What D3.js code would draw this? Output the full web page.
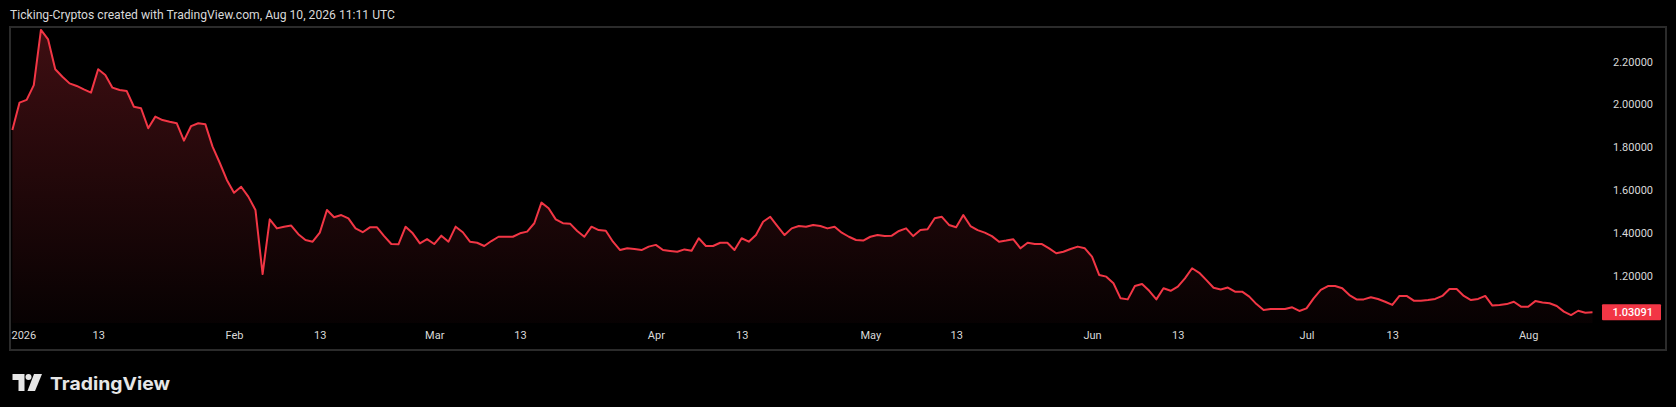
<!DOCTYPE html>
<html>
<head>
<meta charset="utf-8">
<script src="https://cdn.jsdelivr.net/npm/d3@7/dist/d3.min.js"></script>
<style>
  html, body { margin: 0; padding: 0; background: #000; }
  svg { display: block; }
</style>
</head>
<body>
<svg id="chart" width="1676" height="407"></svg>
<script>
// ---- data (daily closes, Jan 1 2026 .. Aug 10 2026) ----
const startDate = "2026-01-01";
const endDate = "2026-08-10";
const closes = [
  1.881, 2.008, 2.021, 2.090, 2.347, 2.303, 2.164, 2.129, 2.098, 2.086,
  2.070, 2.055, 2.164, 2.137, 2.078, 2.067, 2.062, 1.989, 1.982, 1.889,
  1.943, 1.927, 1.919, 1.912, 1.831, 1.899, 1.912, 1.907, 1.803, 1.728,
  1.648, 1.588, 1.616, 1.570, 1.508, 1.209, 1.464, 1.422, 1.430, 1.435,
  1.395, 1.368, 1.360, 1.402, 1.508, 1.474, 1.484, 1.469, 1.422, 1.404,
  1.427, 1.427, 1.386, 1.349, 1.348, 1.430, 1.399, 1.352, 1.372, 1.349,
  1.388, 1.360, 1.430, 1.404, 1.360, 1.355, 1.340, 1.363, 1.383, 1.383,
  1.383, 1.399, 1.407, 1.446, 1.542, 1.516, 1.464, 1.446, 1.444, 1.410,
  1.383, 1.430, 1.414, 1.411, 1.360, 1.321, 1.329, 1.326, 1.321, 1.337,
  1.345, 1.321, 1.317, 1.313, 1.324, 1.318, 1.376, 1.340, 1.340, 1.355,
  1.355, 1.321, 1.376, 1.360, 1.391, 1.453, 1.476, 1.433, 1.391, 1.422,
  1.433, 1.430, 1.438, 1.433, 1.422, 1.430, 1.402, 1.383, 1.368, 1.365,
  1.383, 1.391, 1.386, 1.388, 1.410, 1.422, 1.386, 1.414, 1.418, 1.469,
  1.476, 1.438, 1.427, 1.484, 1.433, 1.414, 1.402, 1.386, 1.360, 1.365,
  1.371, 1.329, 1.355, 1.349, 1.349, 1.329, 1.306, 1.313, 1.326, 1.337,
  1.329, 1.290, 1.205, 1.197, 1.166, 1.096, 1.091, 1.153, 1.163, 1.131,
  1.091, 1.143, 1.131, 1.150, 1.189, 1.236, 1.215, 1.181, 1.145, 1.137,
  1.146, 1.127, 1.127, 1.104, 1.069, 1.041, 1.046, 1.046, 1.046, 1.054,
  1.037, 1.049, 1.096, 1.135, 1.153, 1.153, 1.143, 1.111, 1.091, 1.091,
  1.101, 1.093, 1.080, 1.065, 1.107, 1.107, 1.085, 1.085, 1.088, 1.093,
  1.107, 1.139, 1.139, 1.107, 1.088, 1.093, 1.107, 1.062, 1.065, 1.069,
  1.080, 1.057, 1.057, 1.083, 1.076, 1.073, 1.060, 1.034, 1.018, 1.038,
  1.029, 1.03091
];
const lastPrice = 1.03091;
const xTickDates = ["2026-01-01","2026-01-13","2026-02-01","2026-02-13","2026-03-01","2026-03-13",
  "2026-04-01","2026-04-13","2026-05-01","2026-05-13","2026-06-01","2026-06-13",
  "2026-07-01","2026-07-13","2026-08-01"];
const xTickLabels = ["2026","13","Feb","13","Mar","13","Apr","13","May","13","Jun","13","Jul","13","Aug"];
const yTicks = [1.2, 1.4, 1.6, 1.8, 2.0, 2.2];
const titleText = "Ticking-Cryptos created with TradingView.com, Aug 10, 2026 11:11 UTC";

// ---- build ----
const parse = d3.utcParse("%Y-%m-%d");
const t0 = parse(startDate);
const data = closes.map((v, i) => ({ date: d3.utcDay.offset(t0, i), value: v }));

const svg = d3.select("#chart");
const W = 1676, H = 407;
svg.append("rect").attr("width", W).attr("height", H).attr("fill", "#000");

const paneTop = 27, paneBottom = 323, frameBottom = 350, frameLeft = 10, frameRight = 1666;

const x = d3.scaleUtc().domain([t0, parse(endDate)]).range([12.35, 1592.5]);
const y = d3.scaleLinear().domain([1.2, 2.2]).range([276, 61.5]);

const RED = "#f23645";

// gradient
const defs = svg.append("defs");
const grad = defs.append("linearGradient").attr("id", "areaGrad")
  .attr("gradientUnits", "userSpaceOnUse")
  .attr("x1", 0).attr("x2", 0).attr("y1", paneTop).attr("y2", paneBottom);
grad.append("stop").attr("offset", 0).attr("stop-color", RED).attr("stop-opacity", 0.26);
grad.append("stop").attr("offset", 1).attr("stop-color", RED).attr("stop-opacity", 0.03);
defs.append("clipPath").attr("id", "paneClip").append("rect")
  .attr("x", frameLeft + 1).attr("y", paneTop + 1)
  .attr("width", frameRight - frameLeft - 2).attr("height", paneBottom - paneTop);

// title
svg.append("text")
  .attr("x", 10).attr("y", 19)
  .attr("fill", "#d9d9d9")
  .attr("font-family", "Roboto, 'Liberation Sans', sans-serif")
  .attr("font-size", 12)
  .attr("textLength", 385).attr("lengthAdjust", "spacingAndGlyphs")
  .text(titleText);

// frame
svg.append("rect")
  .attr("x", frameLeft).attr("y", paneTop)
  .attr("width", frameRight - frameLeft).attr("height", frameBottom - paneTop)
  .attr("fill", "none").attr("stroke", "#2b2b2b").attr("stroke-width", 2);

const g = svg.append("g").attr("clip-path", "url(#paneClip)");

const area = d3.area().x(d => x(d.date)).y0(paneBottom).y1(d => y(d.value));
const line = d3.line().x(d => x(d.date)).y(d => y(d.value));

g.append("path").datum(data).attr("d", area).attr("fill", "url(#areaGrad)");
g.append("path").datum(data).attr("d", line)
  .attr("fill", "none").attr("stroke", RED).attr("stroke-width", 2)
  .attr("stroke-linejoin", "round");

// x axis
const xAxis = d3.axisBottom(x)
  .tickValues(xTickDates.map(parse))
  .tickFormat((d, i) => xTickLabels[i])
  .tickSize(0).tickPadding(0);
const xg = svg.append("g").attr("transform", `translate(0, 331)`).call(xAxis);
xg.select(".domain").remove();
xg.selectAll("text")
  .attr("fill", "#d9d9d9")
  .attr("font-family", "Roboto, 'Liberation Sans', sans-serif")
  .attr("font-size", 11)
  .attr("dy", "0.71em")
  .attr("y", 0);
xg.selectAll(".tick").filter((d, i) => i === 0).select("text")
  .attr("text-anchor", "start")
  .attr("x", 11 - x(parse(xTickDates[0])));

// y axis
const yAxis = d3.axisRight(y)
  .tickValues(yTicks)
  .tickFormat(d3.format(".5f"))
  .tickSize(0).tickPadding(0);
const yg = svg.append("g").attr("transform", `translate(1653, 0)`).call(yAxis);
yg.select(".domain").remove();
yg.selectAll("text")
  .attr("fill", "#d9d9d9")
  .attr("font-family", "Roboto, 'Liberation Sans', sans-serif")
  .attr("font-size", 11)
  .attr("text-anchor", "end")
  .attr("x", 0);

// last price label
const ly = y(lastPrice);
svg.append("rect")
  .attr("x", 1602).attr("y", ly - 8).attr("width", 59).attr("height", 16)
  .attr("rx", 1).attr("fill", RED);
svg.append("text")
  .attr("x", 1653).attr("y", ly).attr("dy", "0.35em")
  .attr("text-anchor", "end")
  .attr("fill", "#ffffff")
  .attr("font-family", "Roboto, 'Liberation Sans', sans-serif")
  .attr("font-size", 11).attr("font-weight", 500)
  .text(d3.format(".5f")(lastPrice));

// TradingView logo
const logo = svg.append("g").attr("fill", "#e6e6e6");
logo.append("path").attr("d", "M12.5,374 H24.5 V391 H18.5 V380 H12.5 Z");
logo.append("circle").attr("cx", 28.5).attr("cy", 377).attr("r", 3);
logo.append("path").attr("d", "M34,374 H42 L35,391 H27.5 Z");
svg.append("text")
  .attr("x", 50).attr("y", 390)
  .attr("fill", "#e6e6e6")
  .attr("font-family", "Inter, Roboto, sans-serif")
  .attr("font-size", 18).attr("font-weight", 700)
  .attr("textLength", 120).attr("lengthAdjust", "spacingAndGlyphs")
  .text("TradingView");
</script>
</body>
</html>
